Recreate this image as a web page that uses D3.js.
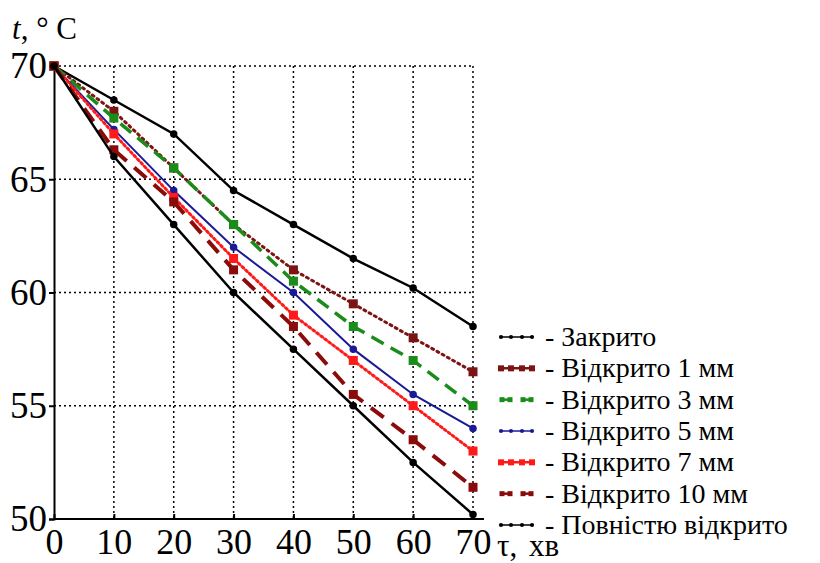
<!DOCTYPE html>
<html>
<head>
<meta charset="utf-8">
<script src="https://cdn.jsdelivr.net/npm/d3@7"></script>
<style>
  body { margin: 0; background: #fff; }
  svg text { font-family: "Liberation Serif", "Times New Roman", Tinos, "DejaVu Serif", serif; fill: #000; }
</style>
</head>
<body>
<div id="chart"></div>
<script>
// data
const times = [0, 10, 20, 30, 40, 50, 60, 70];
const closed = [70, 68.5, 67, 64.5, 63, 61.5, 60.2, 58.5];
const open1 = [70, 68, 65.5, 63, 61, 59.5, 58, 56.5];
const open3 = [70, 67.7, 65.5, 63, 60.5, 58.5, 57, 55];
const open5 = [70, 67.2, 64.5, 62, 60, 57.5, 55.5, 54];
const open7 = [70, 67, 64.2, 61.5, 59, 57, 55, 53];
const open10 = [70, 66.3, 64, 61, 58.5, 55.5, 53.5, 51.4];
const fullyOpen = [70, 66, 63, 60, 57.5, 55, 52.5, 50.2];
const seriesNames = ["- Закрито", "- Відкрито 1 мм", "- Відкрито 3 мм", "- Відкрито 5 мм",
  "- Відкрито 7 мм", "- Відкрито 10 мм", "- Повністю відкрито"];
const xTicks = [0, 10, 20, 30, 40, 50, 60, 70];
const yTicks = [50, 55, 60, 65, 70];

// styles per series
const styles = [
  {color: "#000000", width: 2.5, dash: null, kind: "solid", marker: "circle"},
  {color: "#7d1414", width: 3, dash: "2,4", kind: "dot", marker: "square"},
  {color: "#1a8c1a", width: 3.5, dash: "14,8", kind: "dash", marker: "square"},
  {color: "#1a1a96", width: 2, dash: null, kind: "solid", marker: "circle"},
  {color: "#ff1a1a", width: 3, dash: "2,3", kind: "dot", marker: "square"},
  {color: "#8b0a0a", width: 4, dash: "16,10", kind: "dash", marker: "square"},
  {color: "#000000", width: 2.5, dash: null, kind: "solid", marker: "circle"}
];

const series = [closed, open1, open3, open5, open7, open10, fullyOpen].map((vals, i) => ({
  name: seriesNames[i],
  style: styles[i],
  points: vals.map((v, j) => ({t: times[j], v: v}))
}));

const W = 820, H = 563;
const x = d3.scaleLinear().domain([0, 70]).range([54, 473]);
const y = d3.scaleLinear().domain([50, 70]).range([519, 66]);

const svg = d3.select("#chart").append("svg")
  .attr("width", W)
  .attr("height", H);

// dotted grid
svg.append("g")
  .selectAll("line")
  .data(xTicks.slice(1))
  .join("line")
  .attr("x1", d => x(d)).attr("x2", d => x(d))
  .attr("y1", y(70)).attr("y2", y(50))
  .attr("stroke", "#000").attr("stroke-width", 1.5)
  .attr("stroke-dasharray", "2,3");

svg.append("g")
  .selectAll("line")
  .data(yTicks.slice(1))
  .join("line")
  .attr("x1", x(0)).attr("x2", x(70))
  .attr("y1", d => y(d)).attr("y2", d => y(d))
  .attr("stroke", "#000").attr("stroke-width", 1.5)
  .attr("stroke-dasharray", "2,3");

// axes
const yAxis = svg.append("g")
  .attr("transform", `translate(${x(0)},0)`)
  .call(d3.axisLeft(y).tickValues(yTicks).tickSize(5).tickPadding(2));
yAxis.attr("font-family", null);
yAxis.select(".domain").attr("stroke-width", 2);
yAxis.selectAll(".tick line").attr("stroke-width", 2);
yAxis.selectAll("text").attr("font-size", 37);

const xAxis = svg.append("g")
  .attr("transform", `translate(0,${y(50)})`)
  .call(d3.axisBottom(x).tickValues(xTicks).tickSize(-5).tickPadding(9));
xAxis.attr("font-family", null);
xAxis.select(".domain").attr("d", `M${x(0)},0H${x(70) + 11}`).attr("stroke-width", 2);
xAxis.selectAll(".tick line").attr("stroke-width", 2);
xAxis.selectAll("text").attr("font-size", 36);

// axis titles
const yTitle = svg.append("text")
  .attr("x", 12).attr("y", 39)
  .attr("font-size", 31);
yTitle.append("tspan").attr("font-style", "italic").text("t");
yTitle.append("tspan").text(", ° C");

svg.append("text")
  .attr("x", 497).attr("y", 556)
  .attr("font-size", 31)
  .attr("word-spacing", 4)
  .text("τ, хв");

// lines
const line = d3.line()
  .x(d => x(d.t))
  .y(d => y(d.v));

function drawMarker(g, s, px, py, size) {
  if (s.marker === "circle") {
    g.append("circle").attr("cx", px).attr("cy", py).attr("r", size / 2.4).attr("fill", s.color);
  } else {
    g.append("rect").attr("x", px - size / 2).attr("y", py - size / 2)
      .attr("width", size).attr("height", size).attr("fill", s.color);
  }
}

series.forEach(sr => {
  const g = svg.append("g");
  g.append("path")
    .datum(sr.points)
    .attr("fill", "none")
    .attr("stroke", sr.style.color)
    .attr("stroke-width", sr.style.width)
    .attr("stroke-dasharray", sr.style.dash)
    .attr("stroke-linecap", sr.style.kind === "dot" ? "round" : "butt")
    .attr("d", line);
  sr.points.forEach(p => drawMarker(g, sr.style, x(p.t), y(p.v), 9));
});

// legend
const legendY = d3.scaleLinear().domain([0, series.length - 1]).range([337, 525]);
series.forEach((sr, i) => {
  const g = svg.append("g").attr("transform", `translate(0,${legendY(i)})`);
  const s = sr.style;
  if (s.kind === "dash") {
    [[500, 512], [521, 533]].forEach(([a, b]) => {
      g.append("line").attr("x1", a).attr("x2", b).attr("y1", 0).attr("y2", 0)
        .attr("stroke", s.color).attr("stroke-width", 2.5);
      drawMarker(g, s, a + 2, 0, 5);
      drawMarker(g, s, b - 2, 0, 5);
    });
  } else {
    g.append("line")
      .attr("x1", 500).attr("x2", 533)
      .attr("y1", 0).attr("y2", 0)
      .attr("stroke", s.color)
      .attr("stroke-width", s.kind === "dot" ? 2.5 : 1.5);
    [501, 511, 522, 532].forEach(px => drawMarker(g, s, px, 0, s.kind === "dot" ? 6 : 5));
  }
  g.append("text")
    .attr("x", 545).attr("y", 9)
    .attr("font-size", 28)
    .text(sr.name);
});
</script>
</body>
</html>
